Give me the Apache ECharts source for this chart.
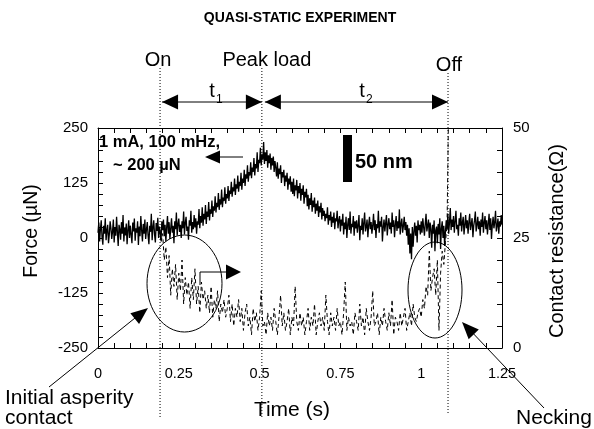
<!DOCTYPE html>
<html><head><meta charset="utf-8">
<script src="https://cdn.jsdelivr.net/npm/echarts@6/dist/echarts.min.js"></script>
<style>html,body{margin:0;padding:0;background:#fff}#c{width:594px;height:429px}</style>
</head><body><div id="c"></div>
<script>
// ---------- data ----------
const xRange = [0, 1.25];
const forceRange = [-250, 250];
const resRange = [0, 50];

// Force (µN), sampled every 0.0025 s from t = 0
const forceStart = 0, forceStep = 0.0025;
const force = [
  12, 35, -8, 20, 40, 2, -15, 28, 10, 45, -5, 18, 30, -12, 8, 38, 22, -2, 15, 42,
  -10, 25, 5, 48, 14, -18, 30, 20, -4, 36, 10, 52, -8, 24, 6, 33, -14, 18, 40, 0,
  28, 8, -12, 35, 15, 44, -6, 22, 12, 38, -16, 26, 4, 50, 18, -8, 32, 10, 42, -2,
  20, 36, 5, -14, 28, 14, 55, -5, 24, 40, 8, -10, 34, 16, 46, 0, 26, 12, -6, 38,
  18, 42, 4, 30, -8, 25, 50, 10, 36, -2, 22, 45, 12, 28, -12, 38, 20, 58, 6, 32,
  44, 14, 30, 0, 38, 22, 60, 8, 34, 48, 16, 26, -4, 40, 28, 62, 12, 36, 20, 52,
  24, 45, 10, 38, 30, 66, 22, 50, 35, 70, 28, 55, 42, 75, 32, 60, 48, 82, 40, 65,
  55, 85, 48, 72, 62, 95, 58, 80, 70, 102, 64, 88, 76, 110, 70, 92, 84, 115, 78, 100,
  90, 118, 84, 108, 100, 128, 94, 115, 106, 135, 98, 122, 112, 142, 105, 128, 118, 148, 110, 135,
  125, 155, 118, 145, 135, 165, 128, 150, 142, 172, 136, 160, 150, 182, 142, 168, 158, 195, 150, 178,
  170, 205, 165, 190, 178, 218, 168, 195, 175, 200, 160, 188, 170, 192, 155, 182, 165, 185, 150, 175,
  160, 140, 172, 135, 158, 145, 165, 125, 150, 138, 155, 118, 142, 128, 148, 110, 135, 122, 140, 105,
  128, 100, 135, 95, 120, 108, 132, 90, 118, 102, 125, 85, 112, 98, 120, 78, 105, 92, 112, 72,
  98, 65, 90, 75, 102, 60, 85, 70, 92, 55, 78, 62, 85, 48, 72, 58, 80, 42, 68, 50,
  62, 38, 55, 45, 70, 30, 52, 40, 60, 25, 48, 35, 58, 20, 45, 38, 62, 22, 40, 50,
  15, 42, 28, 55, 8, 35, 20, 48, 0, 30, 45, 18, 60, 10, 32, 25, 50, 5, 38, 22,
  40, 12, 30, 52, -5, 28, 18, 45, 8, 35, 58, 15, 25, 42, 2, 30, 48, 20, 36, 10,
  28, 55, 18, 40, 0, 32, 22, 62, 12, 38, 26, 48, -8, 24, 42, 15, 34, 52, 6, 30,
  45, 20, 35, 10, 58, 25, 40, 2, 30, 50, 16, 38, 22, 65, 8, 32, 44, 12, 28, 48,
  18, 36, 5, 30, -15, 22, -35, 10, -48, 25, -20, 15, 35, 5, 28, -10, 40, 18, 30, 8,
  38, 12, 45, 25, 5, 32, 55, 15, 28, 42, 0, 35, 20, -22, 30, 10, 40, -30, 18, 26,
  -12, 32, 8, 45, -25, 22, 38, 0, 28, -18, 15, 40, 20, 55, 10, 35, 68, 18, 42, 25,
  50, 12, 38, 62, 20, 30, 5, 45, 28, 58, 15, 35, 48, 8, 30, 52, 22, 40, 10, 36,
  55, 18, 32, 45, 2, 28, 40, 60, 15, 30, 48, 20, 38, 5, 42, 25, 58, 12, 35, 50,
  20, 40, 8, 32, 55, 18, 45, -2, 30, 48, 22, 36, 62, 15, 28, 44, 10, 38, 26, 52,
  30
];

// Contact resistance (Ω), sampled every 0.005 s from t = 0.19
const resStart = 0.19, resStep = 0.005;
const resistance = [
  27, 24, 26, 20, 23, 16, 21, 12, 18, 14,
  19, 11, 17, 13, 20, 10, 16, 12, 15, 9,
  16, 11, 18, 10, 14, 8, 15, 11, 13, 9,
  12, 8, 14, 7, 11, 9, 13, 6, 10, 8,
  11, 7, 9, 12, 6, 10, 5, 9, 7, 11,
  6, 9, 4, 8, 10, 5, 7, 3, 9, 6,
  8, 4, 7, 13, 5, 6, 3, 8, 5, 7,
  4, 9, 6, 3, 7, 12, 5, 8, 4, 6,
  9, 3, 7, 5, 14, 6, 4, 8, 5, 7,
  3, 6, 9, 4, 7, 5, 10, 3, 6, 8,
  5, 7, 4, 12, 6, 3, 8, 5, 7, 4,
  9, 5, 6, 3, 8, 15, 4, 7, 5, 6,
  3, 8, 6, 4, 10, 5, 7, 3, 9, 6,
  4, 7, 13, 5, 6, 8, 3, 7, 5, 9,
  6, 4, 8, 5, 11, 3, 7, 6, 4, 8,
  5, 7, 9, 4, 6, 8, 5, 10, 7, 6,
  8, 9, 7, 11, 9, 14, 12, 22, 13, 16,
  18, 12, 20, 4, 17, 22, 19, 24, 28, 56
];

// Event markers
const eventTimes = [0.192, 0.507, 1.083];
const eventNames = ['On', 'Peak load', 'Off'];

// ---------- chart ----------
const FONT = "'Liberation Sans', Arial, Helvetica, sans-serif";
const forceData = force.map((v, i) => [forceStart + i * forceStep, v]);
const resData = resistance.map((v, i) => [resStart + i * resStep, v]);

const chart = echarts.init(document.getElementById('c'), null, {renderer: 'canvas'});

const axisLine = {show: true, onZero: false, lineStyle: {color: '#000', width: 1}};
const tick = {show: true, inside: true, length: 5, lineStyle: {color: '#000', width: 1}};
const minor = {show: true, splitNumber: 5, length: 5, lineStyle: {color: '#000', width: 1}};

chart.setOption({
  animation: false,
  backgroundColor: '#fff',
  grid: {left: 98, right: 92, top: 128, bottom: 81, containLabel: false},
  xAxis: [
    {type: 'value', position: 'bottom', min: xRange[0], max: xRange[1], interval: 0.25,
     axisLine, axisTick: tick, minorTick: minor, splitLine: {show: false},
     axisLabel: {color: '#000', fontSize: 14.5, fontFamily: FONT, margin: 18}},
    {type: 'value', position: 'top', min: xRange[0], max: xRange[1], interval: 0.25,
     axisLine, axisTick: tick, minorTick: minor, splitLine: {show: false},
     axisLabel: {show: false}}
  ],
  yAxis: [
    {type: 'value', position: 'left', min: forceRange[0], max: forceRange[1], interval: 125,
     axisLine, axisTick: tick, minorTick: minor, splitLine: {show: false},
     axisLabel: {color: '#000', fontSize: 15, fontFamily: FONT, margin: 10}},
    {type: 'value', position: 'right', min: resRange[0], max: resRange[1], interval: 25,
     axisLine, axisTick: tick, minorTick: minor, splitLine: {show: false},
     axisLabel: {color: '#000', fontSize: 15, fontFamily: FONT, margin: 11}}
  ],
  series: [
    {name: 'Force', type: 'line', xAxisIndex: 0, yAxisIndex: 0, data: forceData,
     symbol: 'none', clip: true, lineStyle: {color: '#000', width: 1.3}},
    {name: 'Contact resistance', type: 'line', xAxisIndex: 0, yAxisIndex: 1, data: resData,
     symbol: 'none', clip: true, lineStyle: {color: '#000', width: 1, type: [4, 3]}}
  ]
});

function px(t) { return chart.convertToPixel({xAxisIndex: 0}, t); }

function txt(text, x, y, size, opts) {
  opts = opts || {};
  const align = opts.align || 'left';
  return {
    type: 'text', x: x, y: y, z: 100, rotation: opts.rotation || 0,
    style: {
      text: text, fill: '#000', fontSize: size, fontFamily: FONT,
      fontWeight: opts.bold ? 'bold' : 'normal',
      align: align, textAlign: align, verticalAlign: 'middle', textVerticalAlign: 'middle'
    }
  };
}
function head(tx, ty, fx, fy, len, hw) {
  const dx = tx - fx, dy = ty - fy, d = Math.hypot(dx, dy);
  const ux = dx / d, uy = dy / d;
  const bx = tx - ux * len, by = ty - uy * len;
  return {type: 'polygon', z: 100, shape: {points: [[tx, ty], [bx - uy * hw, by + ux * hw], [bx + uy * hw, by - ux * hw]]},
          style: {fill: '#000'}};
}
function line(points, dash) {
  return {type: 'polyline', z: 100, shape: {points: points},
          style: {stroke: '#000', lineWidth: 1, fill: null, lineDash: dash || null}};
}

const xs = eventTimes.map(px);
const g = [];
// title
g.push(txt('QUASI-STATIC EXPERIMENT', 300, 18, 14, {bold: true, align: 'center'}));
// event dotted lines
const lineTop = [68, 68, 73], lineBot = [419, 419, 415];
xs.forEach((x, i) => g.push(line([[x, lineTop[i]], [x, lineBot[i]]], [1, 2])));
// event labels
g.push(txt(eventNames[0], xs[0] - 2, 60, 20, {align: 'center'}));
g.push(txt(eventNames[1], xs[1] + 5, 60, 20, {align: 'center'}));
g.push(txt(eventNames[2], xs[2] + 1, 65, 20, {align: 'center'}));
// t1 / t2 double arrows
const ay = 102;
g.push(line([[xs[0] + 2, ay], [xs[1], ay]]));
g.push(head(xs[0] + 2, ay, xs[1], ay, 16, 7.5));
g.push(head(xs[1], ay, xs[0], ay, 16, 7.5));
g.push(line([[xs[1] + 3, ay], [xs[2], ay]]));
g.push(head(xs[1] + 3, ay, xs[2], ay, 16, 7.5));
g.push(head(xs[2], ay, xs[1], ay, 16, 7.5));
g.push(txt('t', 212, 91, 20, {align: 'center'}));
g.push(txt('1', 216, 100, 12));
g.push(txt('t', 362, 91, 20, {align: 'center'}));
g.push(txt('2', 366, 100, 12));
// in-plot annotations
g.push(txt('1 mA, 100 mHz,', 99, 142, 16.5, {bold: true}));
g.push(txt('~ 200 \u00b5N', 113, 165, 16.5, {bold: true}));
g.push(line([[243, 157], [215, 157]]));
g.push(head(205, 157, 243, 157, 15, 6.5));
g.push({type: 'rect', z: 100, shape: {x: 343, y: 135, width: 9, height: 47}, style: {fill: '#000'}});
g.push(txt('50 nm', 355, 162.5, 20, {bold: true}));
g.push(line([[200, 285], [200, 272], [228, 272]]));
g.push(head(241, 272, 200, 272, 15, 7.5));
// ellipses
g.push({type: 'ellipse', z: 100, shape: {cx: 184.5, cy: 283.5, rx: 37.5, ry: 48.5},
        style: {fill: null, stroke: '#000', lineWidth: 1}});
g.push({type: 'ellipse', z: 100, shape: {cx: 435, cy: 290, rx: 27, ry: 48},
        style: {fill: null, stroke: '#000', lineWidth: 1}});
// pointer arrows
g.push(line([[49, 387], [140, 314]]));
g.push(head(148, 308, 49, 387, 17, 7));
g.push(line([[544, 408], [468, 328]]));
g.push(head(462, 322, 544, 408, 17, 7));
g.push(txt('Initial asperity', 5, 398, 21));
g.push(txt('contact', 5, 418, 21));
g.push(txt('Necking', 516, 418, 21));
// axis titles
g.push(txt('Time (s)', 292, 410, 21, {align: 'center'}));
g.push(txt('Force (\u00b5N)', 32, 231, 19.5, {align: 'center', rotation: Math.PI / 2}));
g.push(txt('Contact resistance(\u03a9)', 557, 241, 20, {align: 'center', rotation: Math.PI / 2}));

chart.setOption({graphic: g});
</script></body></html>
